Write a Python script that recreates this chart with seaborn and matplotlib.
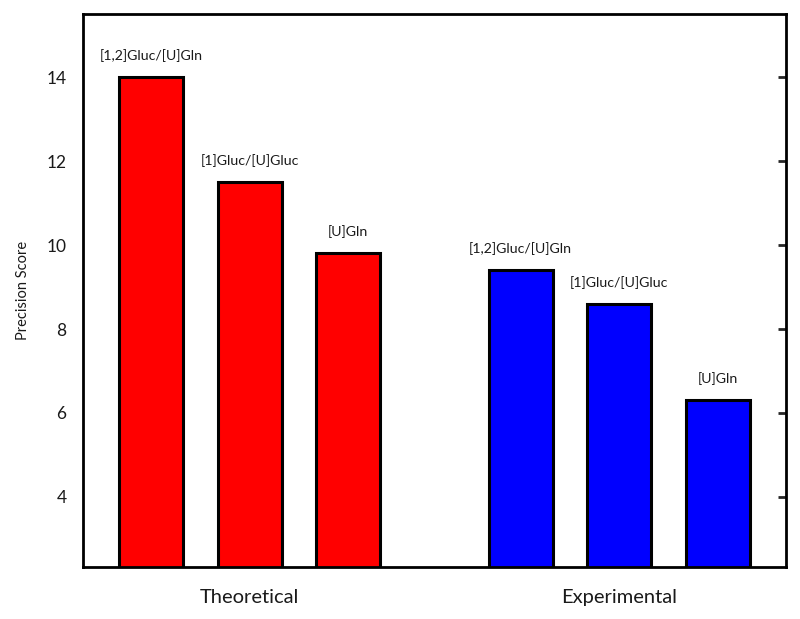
import pandas as pd
import matplotlib
matplotlib.use('Agg')
import matplotlib.pyplot as plt
import seaborn as sns

# dati
groups = ["Theoretical", "Theoretical", "Theoretical",
          "Experimental", "Experimental", "Experimental"]
tracers = ["[1,2]Gluc/[U]Gln", "[1]Gluc/[U]Gluc", "[U]Gln",
           "[1,2]Gluc/[U]Gln", "[1]Gluc/[U]Gluc", "[U]Gln"]
scores = [14.0, 11.5, 9.8, 9.4, 8.6, 6.3]
bar_colors = ["#ff0000", "#ff0000", "#ff0000", "#0000ff", "#0000ff", "#0000ff"]
y_ticks = [4, 6, 8, 10, 12, 14]

df = pd.DataFrame({"group": groups, "tracer": tracers, "score": scores})

sns.set_theme(style="white")
plt.rcParams['font.family'] = ['Lato', 'DejaVu Sans']

fig, ax = plt.subplots(figsize=(8, 6.19), dpi=100)
sns.barplot(data=df, x="group", y="score", hue="tracer", ax=ax,
            order=["Theoretical", "Experimental"],
            hue_order=["[1,2]Gluc/[U]Gln", "[1]Gluc/[U]Gluc", "[U]Gln"],
            width=0.8, gap=0.35, edgecolor="black", linewidth=2.2,
            errorbar=None, legend=False)

# colori per gruppo (rosso teorico, blu sperimentale) ed etichette sopra le barre
for patch in ax.patches:
    cx = patch.get_x() + patch.get_width() / 2
    h = patch.get_height()
    gi = 0 if cx < 0.5 else 1
    for i in range(len(scores)):
        if abs(scores[i] - h) < 1e-9 and (i // 3) == gi:
            patch.set_facecolor(bar_colors[i])
            ax.annotate(tracers[i], (cx, h), xytext=(0, 11), textcoords="offset points",
                        ha="center", va="bottom", fontsize=10.2, color="#1a1a1a")

ax.set_ylim(2.33, 15.5)
ax.set_xlim(-0.45, 1.45)
ax.set_yticks(y_ticks)
ax.set_ylabel("Precision Score", fontsize=10.5, labelpad=12, color="#1a1a1a")
ax.set_xlabel("")
ax.tick_params(axis="y", direction="in", length=6, width=2, right=True,
               labelsize=12.5, pad=12, labelcolor="#1a1a1a")
ax.tick_params(axis="x", length=0, labelsize=14.5, pad=16, labelcolor="#1a1a1a")
for s in ax.spines.values():
    s.set_color("black")
    s.set_linewidth(2)

fig.subplots_adjust(left=0.104, right=0.982, top=0.977, bottom=0.084)
fig.savefig("out.png", dpi=100)
plt.close(fig)
